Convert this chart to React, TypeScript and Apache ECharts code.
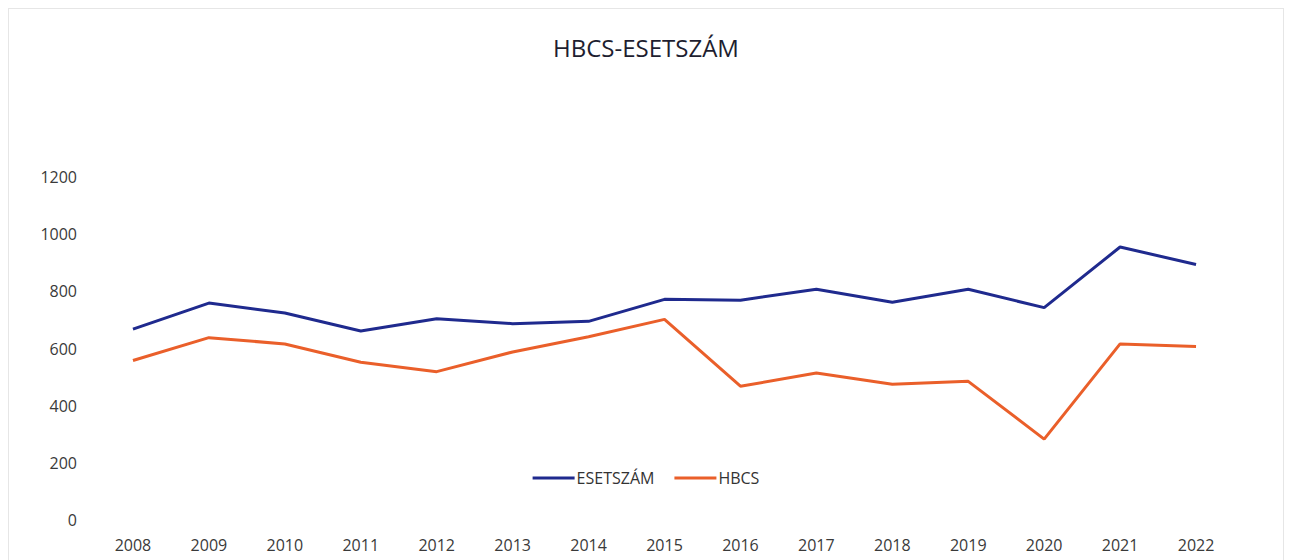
import React, { useEffect, useRef } from "react";
import * as echarts from "echarts";

const years = ["2008", "2009", "2010", "2011", "2012", "2013", "2014", "2015", "2016", "2017", "2018", "2019", "2020", "2021", "2022"];
const esetszam = [668, 759, 724, 661, 704, 687, 695, 772, 769, 807, 762, 807, 743, 955, 894];
const hbcs = [558, 638, 616, 552, 519, 588, 641, 702, 468, 514, 475, 485, 283, 616, 607];

const FONT = "'Open Sans', 'Noto Sans', sans-serif";

export default function App() {
  const ref = useRef<HTMLDivElement>(null);
  useEffect(() => {
    if (!ref.current) return;
    const chart = echarts.init(ref.current, null, { renderer: "svg" });
    chart.setOption({
      animation: false,
      backgroundColor: "#ffffff",
      textStyle: { fontFamily: FONT },
      title: {
        text: "HBCS-ESETSZÁM",
        left: "center",
        top: 21,
        textStyle: { fontFamily: FONT, fontSize: 24, fontWeight: "normal", color: "#1e1e30" },
      },
      legend: {
        left: "center",
        top: 456,
        icon: "rect",
        itemWidth: 42,
        itemHeight: 3,
        itemGap: 20,
        textStyle: { fontFamily: FONT, fontSize: 16, color: "#333333", padding: [0, 0, 0, -3] },
        data: ["ESETSZÁM", "HBCS"],
      },
      grid: { left: 86, right: 49, top: 168, bottom: 40 },
      xAxis: {
        type: "category",
        data: years,
        boundaryGap: true,
        axisLine: { show: false },
        axisTick: { show: false },
        axisLabel: { fontFamily: FONT, fontSize: 16, color: "#3a3a3a", margin: 17 },
      },
      yAxis: {
        type: "value",
        min: 0,
        max: 1200,
        interval: 200,
        axisLine: { show: false },
        axisTick: { show: false },
        splitLine: { show: false },
        axisLabel: {
          fontFamily: FONT,
          fontSize: 16,
          color: "#3a3a3a",
          margin: 18,
          formatter: (v: number) => String(v),
        },
      },
      series: [
        {
          name: "ESETSZÁM",
          type: "line",
          data: esetszam,
          showSymbol: false,
          symbol: "none",
          lineStyle: { color: "#1f2a8e", width: 3 },
          itemStyle: { color: "#1f2a8e" },
        },
        {
          name: "HBCS",
          type: "line",
          data: hbcs,
          showSymbol: false,
          symbol: "none",
          lineStyle: { color: "#ea5f2a", width: 3 },
          itemStyle: { color: "#ea5f2a" },
        },
      ],
    });
    return () => chart.dispose();
  }, []);
  return (
    <div
      ref={ref}
      style={{
        position: "absolute",
        left: 8,
        top: 8,
        width: 1276,
        height: 552,
        border: "1px solid #e6e6e6",
        borderBottom: "none",
        boxSizing: "border-box",
      }}
    />
  );
}
